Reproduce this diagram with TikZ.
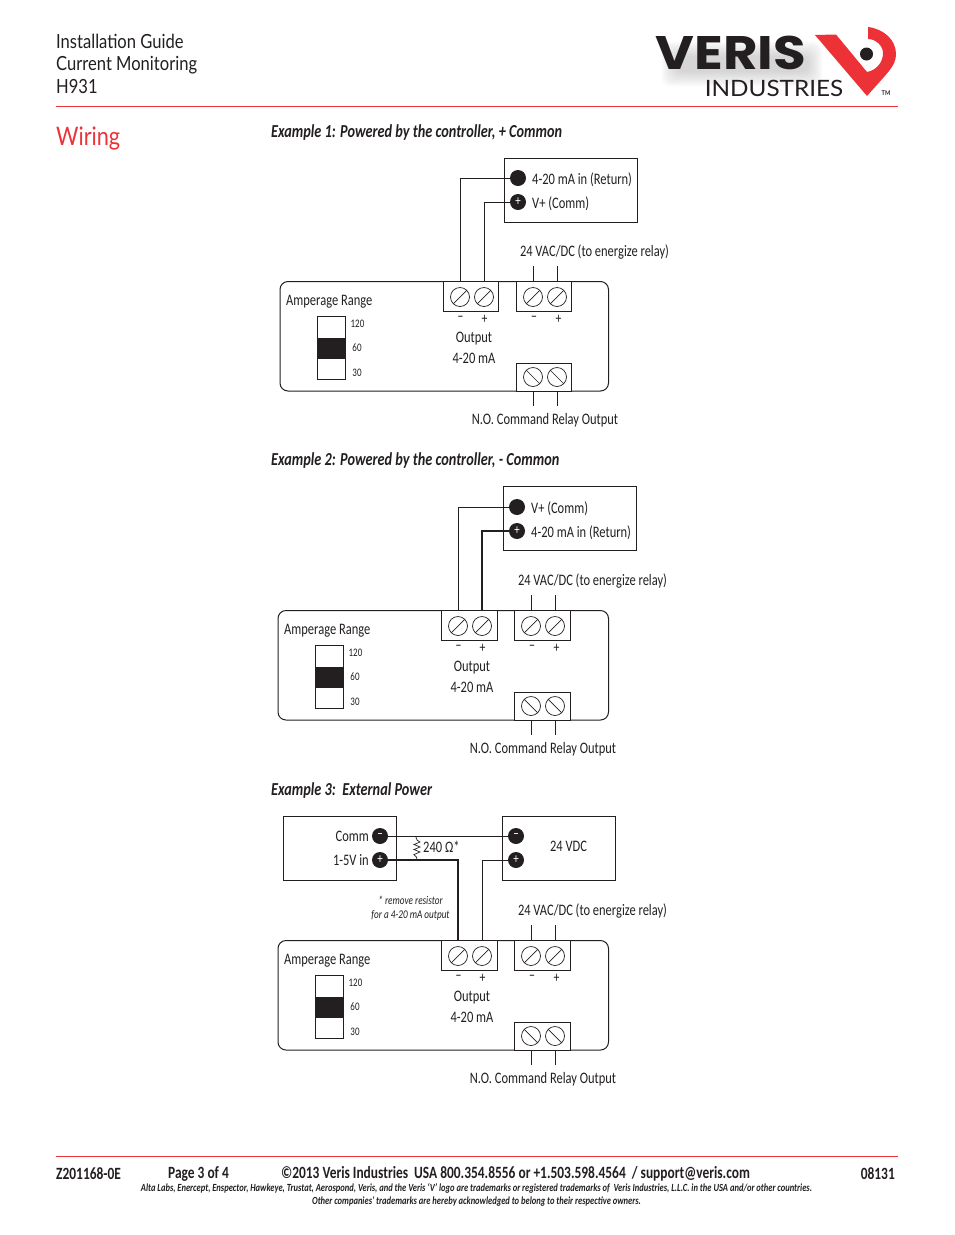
\documentclass[tikz,border=0pt]{standalone}
\usepackage{fontspec}
\setmainfont[FakeStretch=0.78]{Carlito}
\newfontfamily\headfont[FakeStretch=0.85]{Lato}
\newfontfamily\logofont[FakeStretch=1.13]{Poppins}
\newfontfamily\subfont[FakeStretch=1.08]{Lato}
\usetikzlibrary{positioning}
\usetikzlibrary{calc}
\definecolor{verisred}{RGB}{237,50,55}
\definecolor{verisblack}{RGB}{35,31,32}
\tikzset{
  lbl/.style={inner sep=0pt,yshift=-1pt,text=verisblack,font=\fontsize{16}{18}\selectfont},
  tiny/.style={inner sep=0pt,text=verisblack,font=\fontsize{11.5}{13}\selectfont},
  sign/.style={inner sep=0pt,text=verisblack,font=\fontsize{15}{15}\selectfont},
  heading/.style={inner sep=0pt,yshift=-1pt,anchor=west,text=verisblack,font=\fontsize{18.3}{22}\selectfont\bfseries\itshape},
  foot/.style={inner sep=0pt,text=verisblack,font=\fontsize{17.2}{19}\selectfont\bfseries},
  fine/.style={inner sep=0pt,text=verisblack,font=\fontsize{10.9}{12}\selectfont\bfseries\itshape},
  note/.style={inner sep=0pt,text=verisblack,font=\fontsize{11.8}{13}\selectfont\itshape},
  box/.style={draw=verisblack,line width=1pt,inner sep=0pt,outer sep=0pt,anchor=north west},
  screw/.style={draw=verisblack,line width=.7pt,circle,minimum size=19pt,inner sep=0pt,outer sep=0pt},
  dot/.style={fill=verisblack,circle,minimum size=16pt,inner sep=0pt,outer sep=0pt,text=white,
              font=\fontsize{14}{14}\selectfont},
  wire/.style={draw=verisblack,line width=1pt},
  cut/.style={draw=verisblack,line width=.7pt},
  title/.style={inner sep=0pt,yshift=-1pt,anchor=west,text=verisblack,font=\headfont\fontsize{19.5}{24}\selectfont}
}
% one controller: the terminals are named with the prefix given in the scope
\newcommand{\wiringmodule}[4]{%
  \begin{scope}[shift={(#2,#3)},name prefix=#1-]
    \node[box,rounded corners=8pt,minimum width=328.5pt+#4*2,minimum height=109.5pt] (body) at (280,281.5) {};
    \node[box,fill=white,minimum width=55pt+#4,minimum height=29.5pt] (out) at (443.5,281.5) {};
    \node[box,fill=white,minimum width=55pt+#4,minimum height=29.5pt] (pwr) at (516.5,281.5) {};
    \node[box,fill=white,minimum width=55pt+#4,minimum height=28pt] (rly) at (516.5,363) {};
    \node[screw] (o1) at (460,297) {};
    \node[screw] (o2) at (484,297) {};
    \node[screw] (p1) at (533,297) {};
    \node[screw] (p2) at (557,297) {};
    \node[screw] (r1) at (533,377) {};
    \node[screw] (r2) at (557,377) {};
    \path[cut]
      (o1.225) edge (o1.45)
      (o2.225) edge (o2.45)
      (p1.225) edge (p1.45)
      (p2.225) edge (p2.45)
      (r1.135) edge (r1.315)
      (r2.135) edge (r2.315);
    \node[lbl,anchor=west] (range) at (286,300.5) {Amperage Range};
    \node[box,minimum width=28.5pt,minimum height=63pt] (sw) at (317,316.5) {};
    \node[box,fill=verisblack,minimum width=28.5pt,minimum height=20pt] (swpos) at (317,338) {};
    \node[tiny] (s120) at (357.5,323.5) {120};
    \node[tiny] (s60) at (357,347.5) {60};
    \node[tiny] (s30) at (357,372.5) {30};
    \node[sign] (om) at (460.5,319) {−};
    \node[sign] (op) at (484.5,319) {+};
    \node[sign] (pm) at (534,319) {−};
    \node[sign] (pp) at (558.5,319) {+};
    \node[lbl] (outa) at (474,337.5) {Output};
    \node[lbl] (outb) at (474,357.5) {4-20 mA};
    \coordinate (p1end) at (533,266);
    \coordinate (p2end) at (557,266);
    \coordinate (r1end) at (533,406);
    \coordinate (r2end) at (557,406);
    \path[wire]
      (p1end) edge (p1end |- pwr.north)
      (p2end) edge (p2end |- pwr.north)
      (r1end) edge (r1end |- rly.south)
      (r2end) edge (r2end |- rly.south);
    \node[lbl] (vac) at (594.5,251.5) {24 VAC/DC (to energize relay)};
    \node[lbl] (cmd) at (545,419.5) {N.O. Command Relay Output};
  \end{scope}}

\begin{document}
\begin{tikzpicture}[x=1pt,y=-1pt]
  \useasboundingbox (0,0) rectangle (954,1235);
  \fill[white] (0,0) rectangle (954,1235);
  % header
  \node[title] (guide) at (56,40) {Installation Guide};
  \node[title] (family) at (56,64) {Current Monitoring};
  \node[title] (model) at (56,86) {H931};
  \node[title,text=verisred,font=\headfont\fontsize{25.5}{30}\selectfont] (wiring) at (56,138) {Wiring};
  \draw[verisred,line width=1.5pt] (56,106.5) -- (898,106.5);
  % logo
  \foreach \grow in {0,2,...,14}
    \fill[gray,opacity=.045,rounded corners=8pt] (676-\grow,56-\grow) rectangle (808+\grow,72+\grow);
  \node[inner sep=0pt,text=verisblack,font=\logofont\bfseries\fontsize{47}{50}\selectfont] (veris) at (731,53) {VERIS};
  \node[inner sep=0pt,text=verisblack,font=\subfont\fontsize{22.5}{24}\selectfont] (ind) at (774,88) {INDUSTRIES};
  \node[inner sep=0pt,text=verisblack,font=\headfont\bfseries\fontsize{6.5}{7}\selectfont] (tm) at (886,93) {TM};
  \fill[verisred] (815,35) -- (836,34.5) -- (867,72)
    .. controls (877,70) and (883,62) .. (883,53)
    .. controls (883,46) and (876,39) .. (868,39) -- (868,27)
    .. controls (884,29) and (896,40) .. (896,54)
    .. controls (896,66) and (888,72) .. (867,96) -- cycle;
  \fill[verisblack] (866.5,54) circle (6.5pt);

  % example 1
  \node[heading] (ex1) at (271,131.5) {Example 1: Powered by the controller, + Common};
  \wiringmodule{a}{0}{0}{0pt}
  \node[box,minimum width=133pt,minimum height=63.5pt] (ctrla) at (504.5,158.5) {};
  \node[dot] (ctrla-r) at (518,178) {};
  \node[dot] (ctrla-v) at (518,202) {+};
  \node[lbl,anchor=west] (ctrla-rt) at (532,179) {4-20 mA in (Return)};
  \node[lbl,anchor=west] (ctrla-vt) at (532,203) {V+ (Comm)};
  \draw[wire] (ctrla-r) -| (a-o1 |- a-out.north);
  \draw[wire] (ctrla-v) -| (a-o2 |- a-out.north);

  % example 2
  \node[heading] (ex2) at (271,459.5) {Example 2: Powered by the controller, - Common};
  \wiringmodule{b}{-2}{329}{1pt}
  \node[box,minimum width=133pt,minimum height=64pt] (ctrlb) at (503.5,486.5) {};
  \node[dot] (ctrlb-v) at (517,507) {};
  \node[dot] (ctrlb-r) at (517,531) {+};
  \node[lbl,anchor=west] (ctrlb-vt) at (531,508) {V+ (Comm)};
  \node[lbl,anchor=west] (ctrlb-rt) at (531,532) {4-20 mA in (Return)};
  \draw[wire] (ctrlb-v) -| (b-o1 |- b-out.north);
  \draw[wire,line width=1.5pt] (ctrlb-r) -| (b-o2 |- b-out.north);

  % example 3
  \node[heading] (ex3) at (271,789.5) {Example 3:\ \ External Power};
  \wiringmodule{c}{-2}{659}{1pt}
  \node[box,minimum width=113pt,minimum height=64pt] (ctrlc) at (283.5,816.5) {};
  \node[box,minimum width=113pt,minimum height=64pt] (supply) at (502.5,816.5) {};
  \node[dot] (ctrlc-c) at (380,836) {−};
  \node[dot] (ctrlc-i) at (380,860) {+};
  \node[dot] (supply-m) at (516,836) {−};
  \node[dot] (supply-p) at (516,860) {+};
  \node[lbl,anchor=east] (ctrlc-ct) at (369,835.5) {Comm};
  \node[lbl,anchor=east] (ctrlc-it) at (369,859.5) {1-5V in};
  \node[lbl] (supply-t) at (568.5,845.5) {24 VDC};
  \coordinate (restop) at (415.5,836);
  \coordinate (resbot) at (417,860);
  \draw[wire] (ctrlc-c) -- (supply-m);
  \draw[wire,line width=2pt] (ctrlc-i) -| (c-o1 |- c-out.north);
  \draw[wire] (supply-p) -| (c-o2 |- c-out.north);
  \draw[verisblack,line width=.7pt] (restop) -- ++(1.5,4) -- ++(3,2) -- ++(-6,2.5) -- ++(6,2.5)
    -- ++(-6,2.5) -- ++(6,2.5) -- ++(-6,2.5) -- ++(2.5,2.5) -- (resbot);
  \node[lbl,anchor=west] (restxt) at (423,845.5) {240 Ω*};
  \node[note] (notea) at (410.5,900) {* remove resistor};
  \node[note] (noteb) at (410.5,915.5) {for a 4-20 mA output};

  % footer
  \draw[verisred,line width=1pt] (56,1156.5) -- (898,1156.5);
  \node[foot,anchor=west] (docno) at (56,1173.5) {Z201168-0E};
  \node[foot,anchor=west] (page) at (168,1173.5) {Page 3 of 4};
  \node[foot] (addr) at (515.5,1173.5) {©2013 Veris Industries\ \ USA 800.354.8556 or +1.503.598.4564\ \ / support@veris.com};
  \node[foot,anchor=east] (code) at (895,1173.5) {08131};
  \node[fine] (tma) at (476.5,1188.5) {Alta Labs, Enercept, Enspector, Hawkeye, Trustat, Aerospond, Veris, and the Veris `V' logo are trademarks or registered trademarks of\ \ Veris Industries, L.L.C. in the USA and/or other countries.};
  \node[fine] (tmb) at (476.5,1201) {Other companies' trademarks are hereby acknowledged to belong to their respective owners.};
\end{tikzpicture}
\end{document}
